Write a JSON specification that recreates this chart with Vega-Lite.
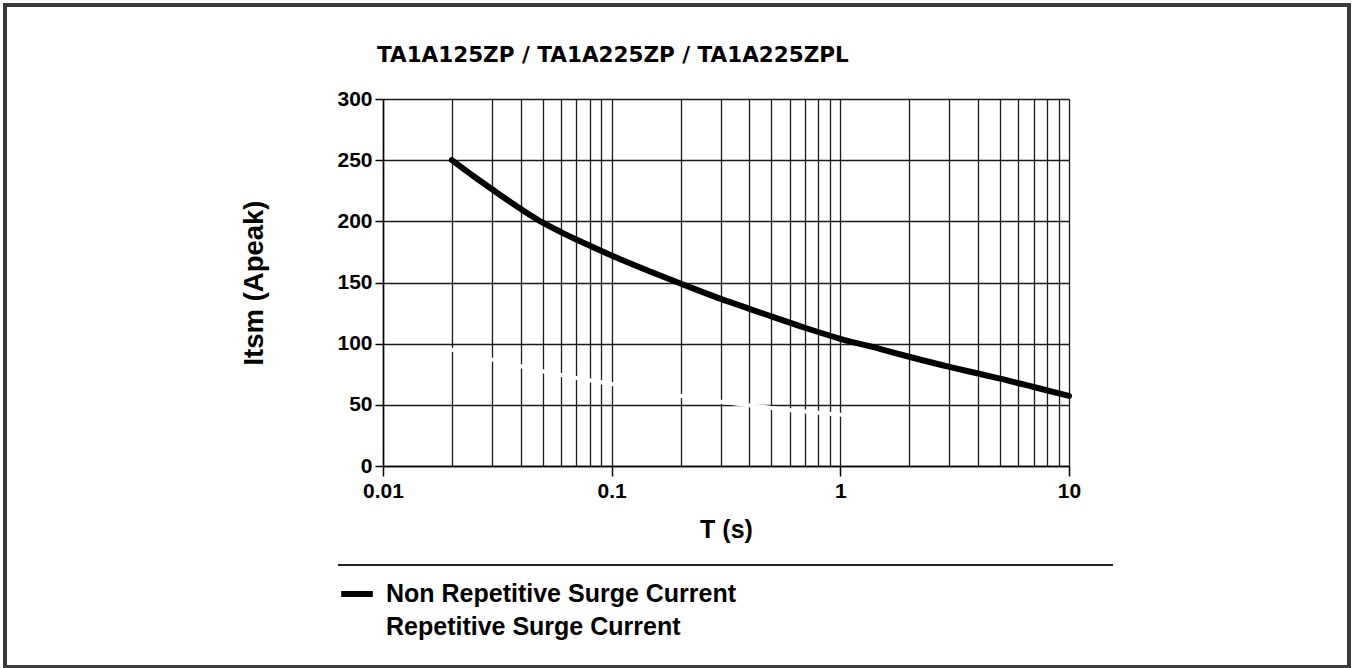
{
  "$schema": "https://vega.github.io/schema/vega-lite/v6.json",
  "autosize": {"type": "none"},
  "padding": {"left": 383, "top": 99, "right": 285, "bottom": 202},
  "width": 686,
  "height": 367,
  "background": "white",
  "title": {
    "text": "TA1A125ZP / TA1A225ZP / TA1A225ZPL",
    "anchor": "start",
    "frame": "group",
    "font": "DejaVu Sans",
    "fontSize": 21.5,
    "fontWeight": "bold",
    "color": "black",
    "offset": -63,
    "dx": -6
  },
  "data": {
    "values": [
      {"s": "Non Repetitive Surge Current", "t": 0.02, "i": 250},
      {"s": "Non Repetitive Surge Current", "t": 0.025, "i": 236.6},
      {"s": "Non Repetitive Surge Current", "t": 0.03, "i": 226.2},
      {"s": "Non Repetitive Surge Current", "t": 0.04, "i": 210.2},
      {"s": "Non Repetitive Surge Current", "t": 0.05, "i": 198.9},
      {"s": "Non Repetitive Surge Current", "t": 0.06, "i": 191.2},
      {"s": "Non Repetitive Surge Current", "t": 0.07, "i": 185.2},
      {"s": "Non Repetitive Surge Current", "t": 0.08, "i": 180.3},
      {"s": "Non Repetitive Surge Current", "t": 0.1, "i": 172},
      {"s": "Non Repetitive Surge Current", "t": 0.15, "i": 158.4},
      {"s": "Non Repetitive Surge Current", "t": 0.2, "i": 149.2},
      {"s": "Non Repetitive Surge Current", "t": 0.3, "i": 136.6},
      {"s": "Non Repetitive Surge Current", "t": 0.4, "i": 128.5},
      {"s": "Non Repetitive Surge Current", "t": 0.5, "i": 122.3},
      {"s": "Non Repetitive Surge Current", "t": 0.7, "i": 113},
      {"s": "Non Repetitive Surge Current", "t": 1, "i": 104},
      {"s": "Non Repetitive Surge Current", "t": 1.5, "i": 95.6},
      {"s": "Non Repetitive Surge Current", "t": 2, "i": 89.3},
      {"s": "Non Repetitive Surge Current", "t": 3, "i": 81},
      {"s": "Non Repetitive Surge Current", "t": 4, "i": 75.6},
      {"s": "Non Repetitive Surge Current", "t": 5, "i": 71.4},
      {"s": "Non Repetitive Surge Current", "t": 7, "i": 64.6},
      {"s": "Non Repetitive Surge Current", "t": 10, "i": 57.3},
      {"s": "Repetitive Surge Current", "t": 0.02, "i": 95},
      {"s": "Repetitive Surge Current", "t": 0.03, "i": 87},
      {"s": "Repetitive Surge Current", "t": 0.04, "i": 81.5},
      {"s": "Repetitive Surge Current", "t": 0.05, "i": 77.5},
      {"s": "Repetitive Surge Current", "t": 0.07, "i": 72},
      {"s": "Repetitive Surge Current", "t": 0.1, "i": 67},
      {"s": "Repetitive Surge Current", "t": 0.2, "i": 57.5},
      {"s": "Repetitive Surge Current", "t": 0.3, "i": 52.5},
      {"s": "Repetitive Surge Current", "t": 0.5, "i": 47.5},
      {"s": "Repetitive Surge Current", "t": 0.7, "i": 44.5},
      {"s": "Repetitive Surge Current", "t": 1, "i": 42}
    ]
  },
  "layer": [
    {
      "mark": {"type": "line", "interpolate": "monotone", "strokeCap": "round", "strokeJoin": "round", "clip": false},
      "encoding": {
        "x": {
          "field": "t", "type": "quantitative",
          "scale": {"type": "log", "domain": [0.01, 10], "nice": false},
          "axis": {
            "title": "T (s)",
            "values": [0.01,0.02,0.03,0.04,0.05,0.06,0.07,0.08,0.09,0.1,0.2,0.3,0.4,0.5,0.6,0.7,0.8,0.9,1,2,3,4,5,6,7,8,9,10],
            "format": "~g",
            "labelExpr": "indexof([0.01,0.1,1,10], datum.value) >= 0 ? datum.label : ''",
            "tickOpacity": {"condition": {"test": "indexof([0.01,0.1,1,10], datum.value) >= 0", "value": 1}, "value": 0},
            "tickSize": 10,
            "labelPadding": 4,
            "labelFlush": false,
            "labelOverlap": false,
            "titlePadding": 16
          }
        },
        "y": {
          "field": "i", "type": "quantitative",
          "scale": {"domain": [0, 300], "nice": false, "zero": true},
          "axis": {
            "title": "Itsm (Apeak)",
            "values": [0, 50, 100, 150, 200, 250, 300],
            "tickSize": 8,
            "labelPadding": 3,
            "titlePadding": 68
          }
        },
        "color": {
          "field": "s", "type": "nominal",
          "scale": {"domain": ["Non Repetitive Surge Current", "Repetitive Surge Current"], "range": ["black", "white"]},
          "legend": {
            "title": null,
            "orient": "none",
            "legendX": -45,
            "legendY": 476,
            "symbolType": "stroke",
            "symbolStrokeWidth": 5,
            "symbolSize": 1000,
            "labelFont": "Liberation Sans",
            "labelFontSize": 25,
            "labelFontWeight": "bold",
            "labelColor": "black",
            "labelOffset": 10,
            "rowPadding": 2,
            "labelLimit": 600
          }
        },
        "strokeWidth": {
          "field": "s", "type": "nominal",
          "scale": {"domain": ["Non Repetitive Surge Current", "Repetitive Surge Current"], "range": [6, 4]},
          "legend": null
        }
      }
    },
    {
      "mark": {"type": "rule", "color": "#222222", "strokeWidth": 1.5, "clip": false},
      "encoding": {
        "x": {"datum": 0.00636},
        "x2": {"datum": 15.5},
        "y": {"datum": -81}
      }
    },
    {
      "mark": {"type": "rect", "fill": null, "fillOpacity": 0, "stroke": "#3a3a3a", "strokeWidth": 2.5, "clip": false},
      "encoding": {
        "x": {"datum": 0.000222},
        "x2": {"datum": 167.6},
        "y": {"datum": 376.8},
        "y2": {"datum": -164}
      }
    }
  ],
  "config": {
    "view": {"stroke": null},
    "font": "Liberation Sans",
    "axis": {
      "domainColor": "black",
      "domainWidth": 1.5,
      "gridColor": "#1a1a1a",
      "gridWidth": 1.3,
      "gridOpacity": 1,
      "grid": true,
      "tickColor": "black",
      "tickWidth": 1.5,
      "labelFont": "Liberation Sans",
      "labelFontSize": 21,
      "labelFontWeight": "bold",
      "labelColor": "black",
      "titleFont": "Liberation Sans",
      "titleFontWeight": "bold",
      "titleColor": "black"
    },
    "axisX": {"titleFontSize": 25},
    "axisY": {"titleFontSize": 27.5}
  }
}
